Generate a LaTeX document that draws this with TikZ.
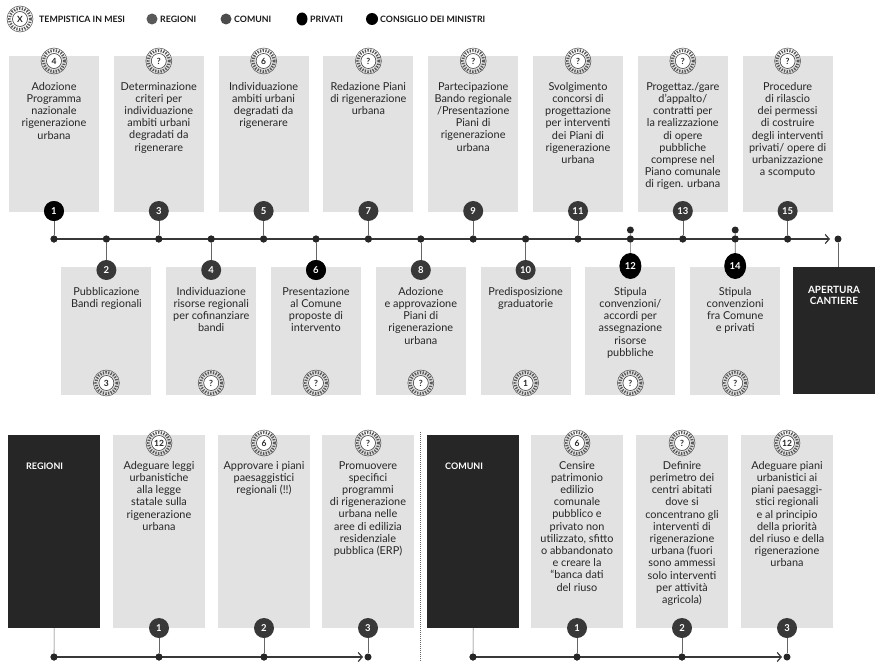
\documentclass[tikz,border=0pt]{standalone}
\usepackage{fontspec}
\setmainfont{Lato}
\usetikzlibrary{arrows.meta,shapes.geometric}
\tikzset{
  card/.style={fill=gray!23, draw=none},
  darkcard/.style={fill=black!85, draw=none, inner sep=0},
  lbl/.style={font=\fontsize{10.9}{12.2}\selectfont, align=center, inner sep=0, anchor=north, text=black!85},
  numdot/.style={circle, fill=black!78, text=white, font=\bfseries\fontsize{9.5}{9.5}\selectfont, minimum size=20, inner sep=0},
  consdot/.style={numdot, fill=black},
  privdot/.style={ellipse, fill=black, text=white, font=\bfseries\fontsize{9.5}{9.5}\selectfont, minimum width=22, minimum height=26, inner sep=0},
  badge/.style={circle, draw=black!75, line width=0.6, fill=white, minimum size=15, inner sep=0, font=\bfseries\fontsize{8.5}{8.5}\selectfont, text=black!85},
  ring/.style={draw=black!65, line width=3, dash pattern=on 1.3pt off 1.4pt},
  tl/.style={line width=1.7, draw=black!78},
  knot/.style={circle, fill=black!85, minimum size=7, inner sep=0},
  stem/.style={draw=black!60, line width=0.6},
  legtxt/.style={font=\bfseries\fontsize{8.8}{8.8}\selectfont, anchor=west, inner sep=0, text=black!90},
  headtxt/.style={font=\bfseries\fontsize{9}{11}\selectfont, text=white, inner sep=0},
}
\newcommand\badgeat[3]{%
  \draw[ring] (#2) circle[radius=10.6pt];
  \draw[black!70, line width=0.5] (#2) circle[radius=13pt];
  \node[badge] (#1) at (#2) {#3};}
\begin{document}
\begin{tikzpicture}[x=1pt,y=-1pt]
\useasboundingbox[fill=white] (0,0) rectangle (875,661);

% ---------------- legend
\badgeat{lx}{20,19}{X}
\node[legtxt] (l1) at (39,19) {TEMPISTICA IN MESI};
\node[circle, fill=black!65, minimum size=11, inner sep=0] (dr) at (152,19) {};
\node[legtxt] (l2) at (160,19) {REGIONI};
\node[circle, fill=black!70, minimum size=11, inner sep=0] (dc) at (226,19) {};
\node[legtxt] (l3) at (234,19) {COMUNI};
\node[ellipse, fill=black, minimum width=11, minimum height=13, inner sep=0] (dp) at (302,19) {};
\node[legtxt] (l4) at (310,19) {PRIVATI};
\node[circle, fill=black, minimum size=12, inner sep=0] (dm) at (372,19) {};
\node[legtxt] (l5) at (380,19) {CONSIGLIO DEI MINISTRI};

% ---------------- top boxes
\foreach \i in {1,3,...,15} {\fill[card] ({54+52.4*(\i-1)-45},56) rectangle ({54+52.4*(\i-1)+45},212);}
\foreach \i in {2,4,...,14} {\fill[card] ({54+52.4*(\i-1)-45},267) rectangle ({54+52.4*(\i-1)+45},395);}

\node[lbl] (t1) at (54,82) {Adozione\\Programma\\nazionale\\rigenerazione\\urbana};
\node[lbl] (t3) at (158.8,82) {Determinazione\\criteri per\\individuazione\\ambiti urbani\\degradati da\\rigenerare};
\node[lbl] (t5) at (263.6,82) {Individuazione\\ambiti urbani\\degradati da\\rigenerare};
\node[lbl] (t7) at (368.4,82) {Redazione Piani\\di rigenerazione\\urbana};
\node[lbl] (t9) at (473.2,82) {Partecipazione\\Bando regionale\\/Presentazione\\Piani di\\rigenerazione\\urbana};
\node[lbl] (t11) at (578,82) {Svolgimento\\concorsi di\\progettazione\\per interventi\\dei Piani di\\rigenerazione\\urbana};
\node[lbl] (t13) at (682.8,82) {Progettaz./gare\\d'appalto/\\contratti per\\la realizzazione\\di opere\\pubbliche\\comprese nel\\Piano comunale\\di rigen. urbana};
\node[lbl] (t15) at (787.6,82) {Procedure\\di rilascio\\dei permessi\\di costruire\\degli interventi\\privati/ opere di\\urbanizzazione\\a scomputo};

\node[lbl] (t2) at (106.4,287) {Pubblicazione\\Bandi regionali};
\node[lbl] (t4) at (211.2,287) {Individuazione\\risorse regionali\\per cofinanziare\\bandi};
\node[lbl] (t6) at (316,287) {Presentazione\\al Comune\\proposte di\\intervento};
\node[lbl] (t8) at (420.8,287) {Adozione\\e approvazione\\Piani di\\rigenerazione\\urbana};
\node[lbl] (t10) at (525.6,287) {Predisposizione\\graduatorie};
\node[lbl] (t12) at (630.4,287) {Stipula\\convenzioni/\\accordi per\\assegnazione\\risorse\\pubbliche};
\node[lbl] (t14) at (735.2,287) {Stipula\\convenzioni\\fra Comune\\e privati};

% badges top row
\badgeat{b1}{54,61}{4}
\badgeat{b3}{158.8,61}{?}
\badgeat{b5}{263.6,61}{6}
\badgeat{b7}{368.4,61}{?}
\badgeat{b9}{473.2,61}{?}
\badgeat{b11}{578,61}{?}
\badgeat{b13}{682.8,61}{?}
\badgeat{b15}{787.6,61}{?}
% badges bottom row
\badgeat{b2}{106.4,383}{3}
\badgeat{b4}{211.2,383}{?}
\badgeat{b6}{316,383}{?}
\badgeat{b8}{420.8,383}{?}
\badgeat{b10}{525.6,383}{1}
\badgeat{b12}{630.4,383}{?}
\badgeat{b14}{735.2,383}{?}

% apertura cantiere
\node[darkcard, minimum width=82, minimum height=127, anchor=north west] (ap) at (793,267) {};
\node[headtxt, font=\bfseries\fontsize{10}{11.5}\selectfont, align=center, anchor=north] (apt) at (834,286) {APERTURA\\CANTIERE};

% ---------------- main timeline
\foreach \i in {1,...,15} {\node[knot] (k\i) at ({54+52.4*(\i-1)},239) {};}
\coordinate (tip) at (830,239);
\draw[tl, -{Straight Barb[length=4pt,width=9pt,line width=1.2pt]}] (k1.center) -- (tip);
\foreach \i in {1,...,15} {\node[knot] at (k\i) {};}
\node[knot] (kend) at (838,239) {};
\draw[stem] (kend) -- (kend |- ap.north);

% markers odd
\foreach \i in {1,3,...,15} {%
  \node[numdot] (m\i) at ({54+52.4*(\i-1)},211) {\i};
  \draw[stem] (m\i) -- (k\i);}
\node[consdot] at (m1) {1};
% markers even
\foreach \i in {2,4,6,8,10} {%
  \node[numdot] (m\i) at ({54+52.4*(\i-1)},270) {\i};
  \draw[stem] (k\i) -- (m\i);}
\node[consdot] at (m6) {6};
\node[privdot] (m12) at (630.4,266) {12};
\node[privdot] (m14) at (735.2,266) {14};
\draw[stem] (k12) -- (m12);
\draw[stem] (k14) -- (m14);
\node[knot] (p12) at (630.4,230) {};
\node[knot] (p14) at (735.2,230) {};
\draw[stem] (p12) -- (k12);
\draw[stem] (p14) -- (k14);

% ---------------- REGIONI section
\node[darkcard, minimum width=92, minimum height=193, anchor=north west] (rb) at (8,435) {};
\node[headtxt, anchor=west] (rbt) at (26,466) {REGIONI};
\foreach \x in {159,264,368} {\fill[card] ({\x-46},435) rectangle ({\x+46},628);}
\node[lbl] (r1) at (159,461) {Adeguare leggi\\urbanistiche\\alla legge\\statale sulla\\rigenerazione\\urbana};
\node[lbl] (r2) at (264,461) {Approvare i piani\\paesaggistici\\regionali (!!)};
\node[lbl] (r3) at (368,461) {Promuovere\\specifici\\programmi\\di rigenerazione\\urbana nelle\\aree di edilizia\\residenziale\\pubblica (ERP)};
\badgeat{rb1}{159,443}{12}
\badgeat{rb2}{264,443}{6}
\badgeat{rb3}{368,443}{?}

\node[knot] (rk0) at (54,657) {};
\node[knot] (rk1) at (159,657) {};
\node[knot] (rk2) at (264,657) {};
\coordinate (rtip) at (363,657);
\draw[tl, -{Straight Barb[length=4pt,width=9pt,line width=1.2pt]}] (rk0.center) -- (rtip);
\node[knot] at (rk0) {};
\node[knot] at (rk1) {};
\node[knot] at (rk2) {};
\node[knot] (rk3) at (368,657) {};
\draw[stem] (rb.south) -- (rk0);
\node[numdot] (rm1) at (159,628) {1};
\node[numdot] (rm2) at (264,628) {2};
\node[numdot] (rm3) at (368,628) {3};
\draw[stem] (rm1) -- (rk1);
\draw[stem] (rm2) -- (rk2);
\draw[stem] (rm3) -- (rk3);

% separator
\coordinate (sa) at (420,432);
\coordinate (sb) at (420,661);
\draw[black!60, line width=0.6, dash pattern=on 1pt off 1pt] (sa) -- (sb);

% ---------------- COMUNI section
\node[darkcard, minimum width=92, minimum height=193, anchor=north west] (cb) at (427,435) {};
\node[headtxt, anchor=west] (cbt) at (445,466) {COMUNI};
\foreach \x in {577,682,787} {\fill[card] ({\x-46},435) rectangle ({\x+46},628);}
\node[lbl] (c1) at (577,461) {Censire\\patrimonio\\edilizio\\comunale\\pubblico e\\privato non\\utilizzato, sfitto\\o abbandonato\\e creare la\\“banca dati\\del riuso};
\node[lbl] (c2) at (682,461) {Definire\\perimetro dei\\centri abitati\\dove si\\concentrano gli\\interventi di\\rigenerazione\\urbana (fuori\\sono ammessi\\solo interventi\\per attività\\agricola)};
\node[lbl] (c3) at (787,461) {Adeguare piani\\urbanistici ai\\piani paesaggi-\\stici regionali\\e al principio\\della priorità\\del riuso e della\\rigenerazione\\urbana};
\badgeat{cb1}{577,443}{6}
\badgeat{cb2}{682,443}{?}
\badgeat{cb3}{787,443}{12}

\node[knot] (ck0) at (473,657) {};
\node[knot] (ck1) at (577,657) {};
\node[knot] (ck2) at (682,657) {};
\coordinate (ctip) at (782,657);
\draw[tl, -{Straight Barb[length=4pt,width=9pt,line width=1.2pt]}] (ck0.center) -- (ctip);
\node[knot] at (ck0) {};
\node[knot] at (ck1) {};
\node[knot] at (ck2) {};
\node[knot] (ck3) at (787,657) {};
\draw[stem] (cb.south) -- (ck0);
\node[numdot] (cm1) at (577,628) {1};
\node[numdot] (cm2) at (682,628) {2};
\node[numdot] (cm3) at (787,628) {3};
\draw[stem] (cm1) -- (ck1);
\draw[stem] (cm2) -- (ck2);
\draw[stem] (cm3) -- (ck3);
\end{tikzpicture}
\end{document}
